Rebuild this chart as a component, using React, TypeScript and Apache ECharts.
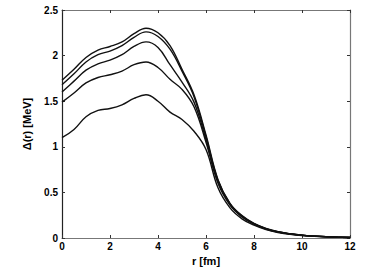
import React, { useEffect, useRef } from "react";
import * as echarts from "echarts";

const rValues = [0, 0.5, 1, 1.5, 2, 2.5, 3, 3.5, 4, 4.5, 5, 5.5, 6, 6.5, 7, 7.5, 8, 8.5, 9, 9.5, 10, 10.5, 11, 11.5, 12];

const curve1 = [1.73, 1.85, 1.98, 2.06, 2.10, 2.15, 2.24, 2.30, 2.25, 2.11, 1.85, 1.57, 1.13, 0.64, 0.38, 0.245, 0.16, 0.105, 0.07, 0.048, 0.032, 0.022, 0.015, 0.01, 0.006];
const curve2 = [1.68, 1.80, 1.93, 2.01, 2.05, 2.11, 2.20, 2.26, 2.21, 2.07, 1.83, 1.55, 1.11, 0.63, 0.375, 0.24, 0.157, 0.103, 0.068, 0.047, 0.031, 0.021, 0.014, 0.009, 0.006];
const curve3 = [1.60, 1.72, 1.84, 1.91, 1.95, 2.01, 2.10, 2.15, 2.09, 1.90, 1.71, 1.49, 1.08, 0.62, 0.37, 0.235, 0.154, 0.1, 0.066, 0.045, 0.03, 0.02, 0.013, 0.009, 0.005];
const curve4 = [1.49, 1.59, 1.70, 1.76, 1.79, 1.83, 1.90, 1.93, 1.87, 1.74, 1.63, 1.44, 1.05, 0.60, 0.36, 0.23, 0.15, 0.098, 0.064, 0.044, 0.029, 0.02, 0.013, 0.008, 0.005];
const curve5 = [1.10, 1.19, 1.33, 1.40, 1.42, 1.46, 1.53, 1.57, 1.50, 1.38, 1.30, 1.17, 0.97, 0.55, 0.33, 0.21, 0.14, 0.092, 0.06, 0.041, 0.027, 0.018, 0.012, 0.008, 0.005];

const curves = [curve1, curve2, curve3, curve4, curve5];

const xTicks = { min: 0, max: 12, interval: 2 };
const yTicks = { min: 0, max: 2.5, interval: 0.5 };

export default function App() {
  const ref = useRef<HTMLDivElement>(null);
  useEffect(() => {
    if (!ref.current) return;
    const chart = echarts.init(ref.current, null, { renderer: "svg" });
    const font = "Liberation Sans";
    const labelStyle = { color: "#000", fontFamily: font, fontWeight: "bold", fontSize: 10 };
    chart.setOption({
      animation: false,
      backgroundColor: "#fff",
      grid: { left: 62, right: 22, top: 10, bottom: 34 },
      xAxis: [
        {
          type: "value",
          ...xTicks,
          name: "r [fm]",
          nameLocation: "middle",
          nameGap: 16,
          nameTextStyle: { ...labelStyle, fontSize: 11 },
          axisLine: { show: true, onZero: false, lineStyle: { color: "#777", width: 1.2 } },
          axisTick: { show: true, inside: true, length: 3, lineStyle: { color: "#333" } },
          axisLabel: { ...labelStyle, margin: 3 },
          splitLine: { show: false },
        },
        {
          type: "value",
          position: "top",
          ...xTicks,
          axisLine: { show: true, onZero: false, lineStyle: { color: "#777", width: 1.2 } },
          axisTick: { show: true, inside: true, length: 3, lineStyle: { color: "#333" } },
          axisLabel: { show: false },
          splitLine: { show: false },
        },
      ],
      yAxis: [
        {
          type: "value",
          ...yTicks,
          name: "Δ(r) [MeV]",
          nameLocation: "middle",
          nameGap: 30,
          nameTextStyle: { ...labelStyle, fontSize: 11 },
          axisLine: { show: true, onZero: false, lineStyle: { color: "#222", width: 1.2 } },
          axisTick: { show: true, inside: true, length: 3, lineStyle: { color: "#333" } },
          axisLabel: { ...labelStyle, margin: 4 },
          splitLine: { show: false },
        },
        {
          type: "value",
          position: "right",
          ...yTicks,
          axisLine: { show: true, onZero: false, lineStyle: { color: "#777", width: 1.2 } },
          axisTick: { show: true, inside: true, length: 3, lineStyle: { color: "#333" } },
          axisLabel: { show: false },
          splitLine: { show: false },
        },
      ],
      series: curves.map((c) => ({
        type: "line",
        xAxisIndex: 0,
        yAxisIndex: 0,
        data: rValues.map((r, i) => [r, c[i]]),
        smooth: 0.4,
        showSymbol: false,
        lineStyle: { color: "#111", width: 1.4 },
      })),
    });
    return () => chart.dispose();
  }, []);
  return (
    <div
      ref={ref}
      style={{ position: "fixed", left: 0, top: 0, width: 372, height: 272 }}
    />
  );
}
